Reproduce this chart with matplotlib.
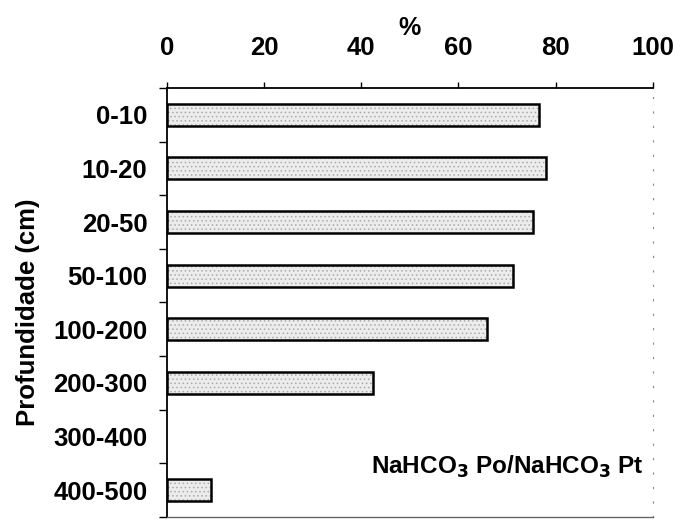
import matplotlib
matplotlib.use("Agg")
import matplotlib.pyplot as plt
import numpy as np

plt.rcParams['font.family'] = ['Liberation Sans', 'DejaVu Sans']
plt.rcParams['font.weight'] = 'bold'
plt.rcParams['axes.labelweight'] = 'bold'
plt.rcParams['mathtext.default'] = 'bf'
plt.rcParams['hatch.linewidth'] = 0.6

# Depth layers (cm) and the NaHCO3 Po / NaHCO3 Pt ratio (%)
depths = ["0-10", "10-20", "20-50", "50-100", "100-200", "200-300", "300-400", "400-500"]
ratio = [76.5, 78.0, 75.3, 71.2, 65.8, 42.5, 0.0, 9.2]
x_ticks = [0, 20, 40, 60, 80, 100]

fig = plt.figure(figsize=(6.75, 5.21), dpi=100)
ax = fig.add_axes([0.247, 0.008, 0.72, 0.823])

y = np.arange(len(depths))
vals = np.array(ratio)
shown = vals > 0
# stippled fill
ax.barh(y[shown], vals[shown], height=0.41, color="#ececec", edgecolor="#aaaaaa",
        hatch="....", linewidth=0, zorder=2)
# outlines
ax.barh(y[shown], vals[shown], height=0.41, facecolor="none", edgecolor="black",
        linewidth=1.8, zorder=3)

ax.set_xlim(0, 100)
ax.set_ylim(len(depths) - 0.5, -0.5)

ax.xaxis.tick_top()
ax.xaxis.set_label_position("top")
ax.set_xticks(x_ticks)
ax.set_xticklabels([str(v) for v in x_ticks], fontsize=18.5)
ax.tick_params(axis="x", direction="out", length=4, width=1, pad=16)
ax.set_xlabel("%", fontsize=18, labelpad=1)

# categorical labels centered on bars, ticks between categories
ax.set_yticks(y)
ax.set_yticklabels(depths, fontsize=18.5)
ax.tick_params(axis="y", which="major", length=0, pad=14)
ax.set_yticks(np.arange(-0.5, len(depths) - 0.4, 1), minor=True)
ax.tick_params(axis="y", which="minor", direction="out", length=6, width=1)

for s in ["left", "top"]:
    ax.spines[s].set_linewidth(1.3)
ax.spines["bottom"].set_linewidth(1.0)
ax.spines["bottom"].set_color("#666666")
ax.spines["right"].set_linestyle((0, (1, 12)))
ax.spines["right"].set_color("#888888")
ax.spines["right"].set_linewidth(0.8)

fig.text(0.041, 0.40, "Profundidade (cm)", rotation=90, ha="center", va="center",
         fontsize=18.5, fontweight="bold")

ax.text(0.42, 0.117, "NaHCO$_3$ Po/NaHCO$_3$ Pt", transform=ax.transAxes,
        fontsize=17.5, fontweight="bold", ha="left", va="center")

fig.savefig("out.png", dpi=100)
